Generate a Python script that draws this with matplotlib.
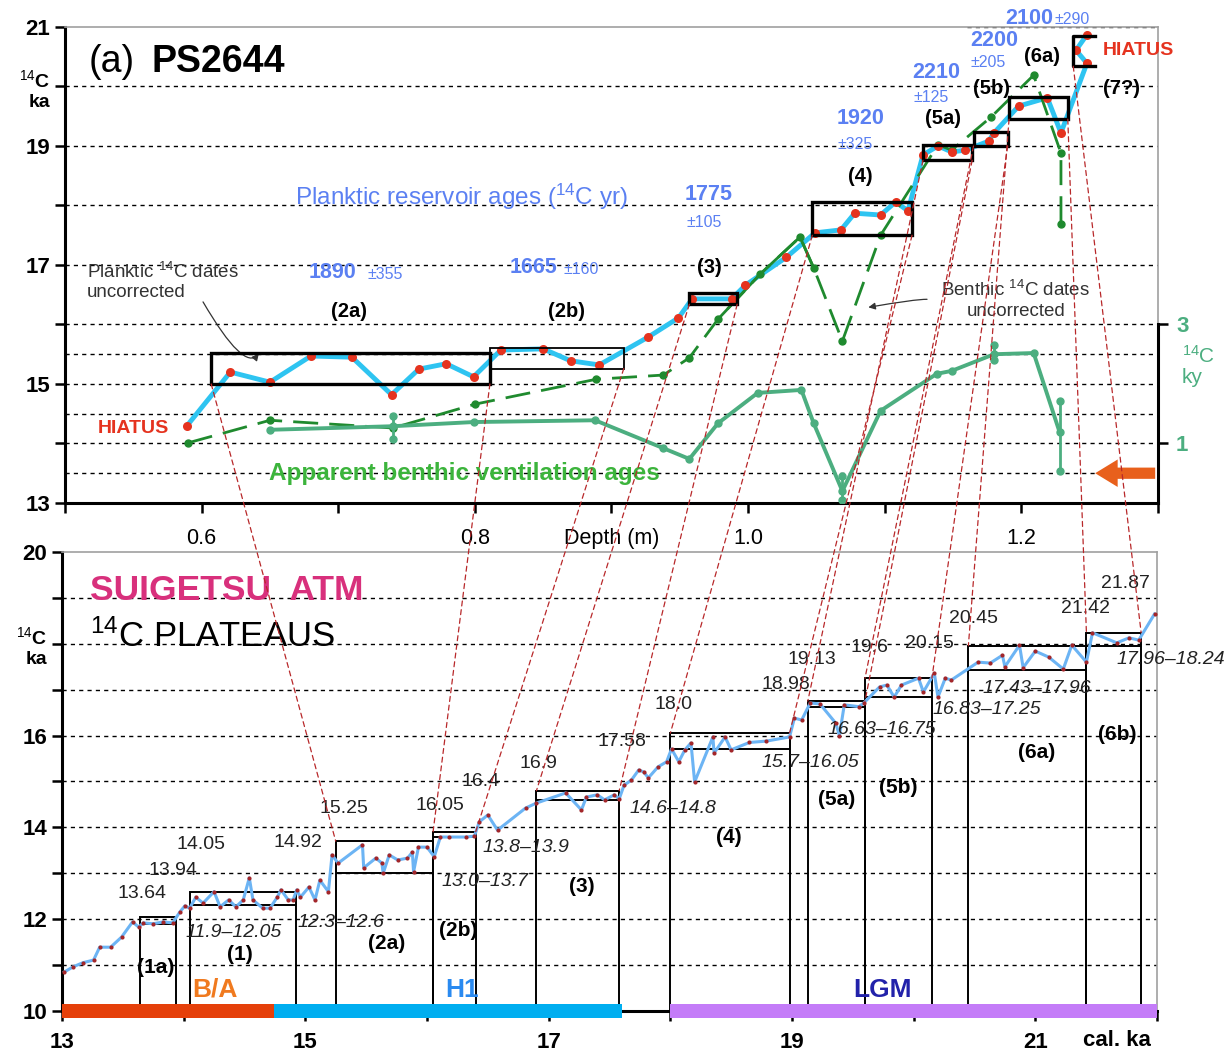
import matplotlib

matplotlib.use('Agg')
import matplotlib.pyplot as plt
from matplotlib.patches import Rectangle, ConnectionPatch
import matplotlib.transforms as mtrans

plt.rcParams['font.family'] = ['Liberation Sans', 'DejaVu Sans']
plt.rcParams['mathtext.fontset'] = 'custom'
plt.rcParams['mathtext.rm'] = 'Liberation Sans'
plt.rcParams['mathtext.it'] = 'Liberation Sans:italic'
plt.rcParams['mathtext.bf'] = 'Liberation Sans:bold'

# ---- top panel: PS2644, depth (m) vs 14C ka ----
plank_depth = [0.589, 0.621, 0.650, 0.680, 0.710, 0.739, 0.759, 0.779, 0.799, 0.819,
               0.850, 0.870, 0.891, 0.927, 0.949, 0.959, 0.988, 0.998, 1.028, 1.049,
               1.068, 1.078, 1.097, 1.108, 1.117, 1.128, 1.139, 1.149, 1.159, 1.176,
               1.180, 1.198, 1.219, 1.229, 1.248, 1.240, 1.248]
plank_age = [14.29, 15.20, 15.03, 15.47, 15.45, 14.82, 15.25, 15.34, 15.12, 15.57,
             15.59, 15.39, 15.32, 15.79, 16.11, 16.43, 16.43, 16.66, 17.13, 17.54,
             17.59, 17.87, 17.84, 18.06, 17.91, 18.85, 19.00, 18.90, 18.93, 19.08,
             19.22, 19.67, 19.81, 19.22, 20.39, 20.61, 20.87]

benth_depth = [0.590, 0.650, 0.740, 0.800, 0.889, 0.938, 0.957, 0.978, 1.009, 1.038,
               1.048, 1.069, 1.097, 1.139, 1.149, 1.178, 1.209, 1.229, 1.229]
benth_age = [14.01, 14.39, 14.26, 14.66, 15.08, 15.15, 15.44, 16.09, 16.85, 17.47,
             16.95, 15.72, 17.50, 19.02, 18.93, 19.49, 20.19, 18.88, 17.69]

vent_depth = [0.650, 0.740, 0.799, 0.888, 0.938, 0.957, 0.978, 1.007, 1.039, 1.048,
              1.069, 1.097, 1.138, 1.149, 1.180, 1.209, 1.228]
vent_ky = [1.23, 1.29, 1.36, 1.39, 0.92, 0.74, 1.34, 1.85, 1.90, 1.34,
           0.20, 1.55, 2.17, 2.22, 2.50, 2.52, 1.19]
vent_err_depth = [0.740, 1.069, 1.180, 1.228]
vent_err_lo = [1.07, 0.05, 2.40, 0.54]
vent_err_hi = [1.46, 0.45, 2.65, 1.71]

top_box_names = ['(2a)', '(2b)', '(3)', '(4)', '(5a)', '(5b)', '(6a)', '(7?)']
top_box_d0 = [0.607, 0.811, 0.957, 1.047, 1.128, 1.165, 1.191, 1.238]
top_box_d1 = [0.811, 0.909, 0.992, 1.120, 1.164, 1.190, 1.234, 1.254]
top_box_a0 = [15.00, 15.26, 16.34, 17.50, 18.76, 19.00, 19.45, 20.34]
top_box_a1 = [15.52, 15.60, 16.53, 18.06, 19.02, 19.24, 19.82, 20.85]

res_age = ['1890', '1665', '1775', '1920', '2210', '2200', '2100']
res_err = ['±355', '±160', '±105', '±325', '±125', '±205', '±290']

# ---- bottom panel: Suigetsu atmospheric 14C, cal ka vs 14C ka ----
suig_cal = [13.02, 13.09, 13.17, 13.26, 13.31, 13.40, 13.49, 13.58, 13.63, 13.67,
            13.75, 13.83, 13.91, 13.97, 14.01, 14.05, 14.10, 14.16, 14.25, 14.30,
            14.37, 14.43, 14.49, 14.54, 14.57, 14.65, 14.71, 14.77, 14.80, 14.86,
            14.90, 14.93, 14.96, 15.03, 15.08, 15.12, 15.19, 15.22, 15.27, 15.47,
            15.48, 15.58, 15.63, 15.64, 15.69, 15.76, 15.84, 15.88, 15.89, 15.93,
            16.00, 16.06, 16.11, 16.18, 16.32, 16.39, 16.43, 16.50, 16.58, 16.81,
            16.90, 17.14, 17.27, 17.31, 17.40, 17.46, 17.54, 17.58, 17.62, 17.68,
            17.74, 17.78, 17.82, 17.90, 17.97, 18.01, 18.07, 18.12, 18.17, 18.20,
            18.35, 18.36, 18.45, 18.50, 18.65, 18.79, 18.98, 19.02, 19.08, 19.15,
            19.23, 19.36, 19.39, 19.43, 19.55, 19.59, 19.72, 19.78, 19.84, 19.90,
            20.04, 20.08, 20.17, 20.20, 20.26, 20.31, 20.53, 20.63, 20.73, 20.75,
            20.87, 20.90, 21.00, 21.11, 21.23, 21.30, 21.42, 21.47, 21.67, 21.77,
            21.85, 21.98]
suig_age = [10.85, 10.96, 11.05, 11.11, 11.39, 11.39, 11.61, 11.94, 11.83, 11.92,
            11.90, 11.94, 11.92, 12.16, 12.29, 12.24, 12.48, 12.35, 12.60, 12.27,
            12.42, 12.27, 12.42, 12.90, 12.42, 12.24, 12.24, 12.48, 12.64, 12.42,
            12.42, 12.64, 12.48, 12.70, 12.42, 12.85, 12.60, 13.40, 13.22, 13.62,
            13.12, 13.33, 13.22, 13.00, 13.40, 13.29, 13.33, 13.46, 13.03, 13.57,
            13.57, 13.36, 13.79, 13.79, 13.79, 13.81, 14.12, 14.27, 13.94, 14.42,
            14.53, 14.75, 14.38, 14.66, 14.71, 14.60, 14.71, 14.62, 14.92, 15.03,
            15.25, 15.21, 15.08, 15.32, 15.43, 15.71, 15.43, 15.69, 15.84, 14.99,
            15.97, 15.62, 15.97, 15.69, 15.85, 15.88, 15.97, 16.38, 16.34, 16.71,
            16.69, 16.27, 16.00, 16.67, 16.63, 16.71, 17.06, 17.10, 16.84, 17.10,
            17.25, 16.95, 17.36, 16.84, 17.25, 17.21, 17.60, 17.58, 17.75, 17.50,
            17.97, 17.48, 17.84, 17.71, 17.45, 17.97, 17.60, 18.24, 18.02, 18.13,
            18.08, 18.65]

plat_names = ['(1a)', '(1)', '(2a)', '(2b)', '(3)', '(4)', '(5a)', '(5b)', '(6a)', '(6b)']
plat_cal0 = [13.64, 14.05, 15.25, 16.05, 16.9, 18.0, 19.13, 19.6, 20.45, 21.42]
plat_cal1 = [13.94, 14.92, 16.05, 16.4, 17.58, 18.98, 19.6, 20.15, 21.42, 21.87]
plat_lo = [11.9, 12.3, 13.0, 13.8, 14.6, 15.7, 16.63, 16.83, 17.43, 17.96]
plat_hi = [12.05, 12.6, 13.7, 13.9, 14.8, 16.05, 16.75, 17.25, 17.96, 18.24]

period_names = ['B/A', 'H1', 'LGM']
period_start = [13.0, 14.74, 18.0]
period_end = [14.74, 17.6, 22.0]

# top box edge (index, side) -> bottom plateau edge (index, side)
links = [(0, 0, 2, 0), (0, 1, 3, 0), (1, 1, 3, 1), (2, 0, 4, 0), (2, 1, 4, 1),
         (3, 0, 5, 0), (3, 1, 5, 1), (4, 0, 6, 0), (4, 1, 6, 1), (5, 0, 7, 0),
         (5, 1, 7, 1), (6, 0, 8, 0), (6, 1, 9, 0), (7, 0, 9, 1)]

CYAN = '#2ec4f1'
RED = '#e5331f'
DKGREEN = '#1f8a2e'
TEAL = '#4cae80'
BLUE = '#5b80f2'
GRID = dict(color='black', lw=1.0, ls=(0, (3, 3)), zorder=0)

fig = plt.figure(figsize=(12.29, 10.54), dpi=100)
ax1 = fig.add_axes([0.0529, 0.5228, 0.8893, 0.4516])
ax2 = fig.add_axes([0.0504, 0.0408, 0.8910, 0.4355])

# ---------------- top panel ----------------
ax1.set_xlim(0.5, 1.3)
ax1.set_ylim(13, 21)
for g in [13.5, 14, 14.5, 15, 15.5, 16, 17, 18, 19, 20]:
    ax1.axhline(g, **GRID)
ax1.hlines(21, 1.16, 1.3, **GRID)

ax1.plot(plank_depth, plank_age, color=CYAN, lw=3.5, zorder=3)
ax1.plot(plank_depth, plank_age, 'o', color=RED, ms=6.5, mec='none', zorder=4)
ax1.plot(benth_depth, benth_age, color=DKGREEN, lw=2.0, ls=(0, (9, 4)), zorder=3,
         marker='o', ms=5)
solid = slice(7, 11)
ax1.plot(benth_depth[solid], benth_age[solid], color=DKGREEN, lw=2.0, zorder=3)

for name, d0, d1, a0, a1 in zip(top_box_names, top_box_d0, top_box_d1, top_box_a0, top_box_a1):
    lw = 1.3 if name == '(2b)' else 2.4
    if name == '(7?)':
        ax1.plot([d1, d0, d0, d1], [a0, a0, a1, a1], color='k', lw=lw, zorder=5,
                 clip_on=False)
    else:
        ax1.add_patch(Rectangle((d0, a0), d1 - d0, a1 - a0, fill=False, ec='k',
                                lw=lw, zorder=5))

ax1r = ax1.twinx()
ax1r.set_ylim(0, 8)
ax1r.plot(vent_depth, vent_ky, color=TEAL, lw=2.8, marker='o', ms=5, zorder=3)
ax1r.vlines(vent_err_depth, vent_err_lo, vent_err_hi, color=TEAL, lw=2.0)
ax1r.plot(vent_err_depth + vent_err_depth, vent_err_lo + vent_err_hi, 'o',
          color=TEAL, ms=5)
ax1r.annotate('', xy=(1.252, 0.5), xytext=(1.3, 0.5),
              arrowprops=dict(arrowstyle='simple,head_width=1.1,head_length=0.9,tail_width=0.45',
                              color='#e8601c', mutation_scale=18, lw=0))

ax1.set_xticks([0.5, 0.6, 0.7, 0.8, 0.9, 1.0, 1.1, 1.2, 1.3])
ax1.set_xticklabels(['', '0.6', '', '0.8', 'Depth (m)', '1.0', '', '1.2', ''],
                    fontsize=15.5)
ax1.set_yticks([13, 14, 15, 16, 17, 18, 19, 20, 21])
ax1.set_yticklabels(['13', '', '15', '', '17', '', '19', '$^{14}$C\nka', '21'],
                    fontsize=16, fontweight='bold')
ax1.get_yticklabels()[7].set_fontsize(14)
ax1.tick_params(axis='both', direction='out', length=7, width=1.8)
ax1.tick_params(axis='x', pad=11)
ax1r.set_yticks([1, 3])
ax1r.set_yticklabels(['1', '3'], fontsize=16, fontweight='bold', color=TEAL)
ax1r.tick_params(axis='y', direction='out', length=7, width=1.8, pad=6)
for sp in ['left', 'bottom']:
    ax1.spines[sp].set_linewidth(2.2)
for sp in ['top', 'right']:
    ax1.spines[sp].set_color('#a0a0a0')
    ax1.spines[sp].set_linewidth(1.2)
for sp in ['left', 'top', 'bottom']:
    ax1r.spines[sp].set_visible(False)
ax1r.spines['right'].set_bounds(0, 3)
ax1r.spines['right'].set_linewidth(2.2)
ax1.text(1.022, 15.3, '$^{14}$C\nky', transform=mtrans.blended_transform_factory(ax1.transAxes, ax1.transData),
         fontsize=15, color=TEAL, ha='left', va='center', linespacing=1.1)

ax1.text(0.517, 20.41, '(a)', fontsize=27, va='center', ha='left')
ax1.text(0.5636, 20.41, 'PS2644', fontsize=27, fontweight='bold', va='center', ha='left')
ax1.text(0.790, 18.14, 'Planktic reservoir ages ($^{14}$C yr)', fontsize=17.5, color=BLUE,
         ha='center', va='center')

res_pos = [(0.696, 16.88), (0.843, 16.95), (0.971, 18.18), (1.082, 19.47),
           (1.138, 20.24), (1.180, 20.78), (1.206, 21.15)]
err_pos = [(0.734, 16.84), (0.878, 16.93), (0.968, 17.72), (1.078, 19.02),
           (1.134, 19.81), (1.176, 20.41), (1.237, 21.12)]
for v, e, (x, y), (xe, ye) in zip(res_age, res_err, res_pos, err_pos):
    ax1.text(x, y, v, fontsize=15.5, fontweight='bold', color=BLUE, ha='center',
             va='center', clip_on=False)
    ax1.text(xe, ye, e, fontsize=11.5, color=BLUE, ha='center', va='center',
             clip_on=False)

name_pos = [(0.708, 16.21), (0.867, 16.21), (0.972, 16.95), (1.082, 18.48),
            (1.143, 19.47), (1.178, 19.97), (1.215, 20.50), (1.273, 19.97)]
for name, (x, y) in zip(top_box_names, name_pos):
    ax1.text(x, y, name, fontsize=14.5, fontweight='bold', ha='center', va='center')

ax1.text(0.550, 14.26, 'HIATUS', fontsize=14, fontweight='bold', color=RED,
         ha='center', va='center')
ax1.text(1.286, 20.61, 'HIATUS', fontsize=14, fontweight='bold', color=RED,
         ha='center', va='center', clip_on=False)
ax1.text(0.516, 16.72, 'Planktic $^{14}$C dates\nuncorrected', fontsize=13.5,
         color='#333333', ha='left', va='center', linespacing=1.2)
ax1.annotate('', xy=(0.643, 15.55), xytext=(0.600, 16.42),
             arrowprops=dict(arrowstyle='-|>', color='#333333', lw=0.9,
                             connectionstyle='angle3,angleA=-60,angleB=60'))
ax1.text(1.196, 16.41, 'Benthic $^{14}$C dates\nuncorrected', fontsize=13.5,
         color='#333333', ha='center', va='center', linespacing=1.2)
ax1.annotate('', xy=(1.086, 16.28), xytext=(1.133, 16.42),
             arrowprops=dict(arrowstyle='-|>', color='#333333', lw=0.9,
                             connectionstyle='angle3,angleA=-10,angleB=10'))
ax1.text(0.792, 13.49, 'Apparent benthic ventilation ages', fontsize=17.5,
         fontweight='bold', color='#3cb43c', ha='center', va='center')

# ---------------- bottom panel ----------------
ax2.set_xlim(13, 22)
ax2.set_ylim(10, 20)
for g in range(11, 20):
    ax2.axhline(g, **GRID)

for c0, c1, lo, hi in zip(plat_cal0, plat_cal1, plat_lo, plat_hi):
    ax2.add_patch(Rectangle((c0, 10), c1 - c0, hi - 10, fill=False, ec='k', lw=1.4,
                            zorder=2))
    ax2.hlines(lo, c0, c1, color='k', lw=1.4, zorder=2)

ax2.plot(suig_cal, suig_age, color='#6cb4f4', lw=2.2, zorder=3)
ax2.plot(suig_cal, suig_age, 'o', color='#a3262a', ms=3, mec='none', zorder=4)

period_colors = ['#e5400a', '#00aef0', '#c47cf8']
period_text = ['#f07a1f', '#2a8af0', '#2222aa']
period_label_x = [14.26, 16.29, 19.74]
for name, s, e, c, tc, lx in zip(period_names, period_start, period_end, period_colors,
                                 period_text, period_label_x):
    ax2.add_patch(Rectangle((s, 9.85), e - s, 0.3, color=c, lw=0, zorder=5,
                            clip_on=False))
    ax2.text(lx, 10.46, name, fontsize=19, fontweight='bold', color=tc,
             ha='center', va='center', zorder=6)

edge_labels = ['13.64', '13.94', '14.05', '14.92', '15.25', '16.05', '16.4', '16.9',
               '17.58', '18.0', '18.98', '19.13', '19.6', '20.15', '20.45', '21.42',
               '21.87']
edge_pos = [(13.66, 12.57), (13.91, 13.05), (14.14, 13.62), (14.94, 13.66),
            (15.32, 14.42), (16.11, 14.47), (16.44, 15.01), (16.92, 15.40),
            (17.60, 15.88), (18.03, 16.67), (18.95, 17.12), (19.16, 17.65),
            (19.64, 17.91), (20.13, 18.00), (20.49, 18.56), (21.41, 18.76),
            (21.74, 19.32)]
for t, (x, y) in zip(edge_labels, edge_pos):
    ax2.text(x, y, t, fontsize=14, color='#222222', ha='center', va='center')

range_pos = [(14.41, 11.72), (15.29, 11.92), (16.48, 12.83), (16.81, 13.57),
             (18.02, 14.42), (19.15, 15.42), (19.74, 16.14), (20.60, 16.56),
             (21.01, 17.02), (22.11, 17.65)]
for lo, hi, (x, y) in zip(plat_lo, plat_hi, range_pos):
    ax2.text(x, y, f'{lo}\u2013{hi}', fontsize=14, style='italic', color='#222222',
             ha='center', va='center', clip_on=False)

plat_name_pos = [(13.77, 10.94), (14.46, 11.22), (15.67, 11.48), (16.26, 11.76),
                 (17.27, 12.72), (18.48, 13.77), (19.37, 14.60), (19.87, 14.86),
                 (21.01, 15.64), (21.67, 16.03)]
for name, (x, y) in zip(plat_names, plat_name_pos):
    ax2.text(x, y, name, fontsize=15, fontweight='bold', ha='center', va='center')

ax2.text(13.23, 19.15, 'SUIGETSU  ATM', fontsize=25.5, fontweight='bold',
         color='#d8307c', ha='left', va='center')
ax2.text(13.23, 18.15, '$^{14}$C PLATEAUS', fontsize=25, color='black',
         ha='left', va='center')

ax2.set_xticks(range(13, 23))
ax2.set_xticklabels(['13', '', '15', '', '17', '', '19', '', '21', ''],
                    fontsize=16, fontweight='bold')
ax2.text(21.67, -0.065, 'cal. ka', transform=mtrans.blended_transform_factory(ax2.transData, ax2.transAxes),
         fontsize=16, fontweight='bold', ha='center', va='center')
ax2.set_yticks(range(10, 21))
ax2.set_yticklabels(['10', '', '12', '', '14', '', '16', '', '$^{14}$C\nka', '', '20'],
                    fontsize=16, fontweight='bold')
ax2.get_yticklabels()[8].set_fontsize(14)
ax2.tick_params(axis='both', direction='out', length=7, width=1.8)
ax2.tick_params(axis='x', pad=8)
for sp in ['left', 'bottom']:
    ax2.spines[sp].set_linewidth(2.2)
for sp in ['top', 'right']:
    ax2.spines[sp].set_color('#a0a0a0')
    ax2.spines[sp].set_linewidth(1.2)

# dashed tie lines from core depths to calendar plateaus
for ti, ts, bi, bs in links:
    d = top_box_d1[ti] if ts else top_box_d0[ti]
    c = plat_cal1[bi] if bs else plat_cal0[bi]
    con = ConnectionPatch(xyA=(d, top_box_a0[ti]), coordsA=ax1.transData,
                          xyB=(c, plat_hi[bi]), coordsB=ax2.transData,
                          color='#b8282a', lw=0.9, ls=(0, (4, 3)), zorder=10)
    fig.add_artist(con)

fig.savefig('out.png', dpi=100)
plt.close(fig)
